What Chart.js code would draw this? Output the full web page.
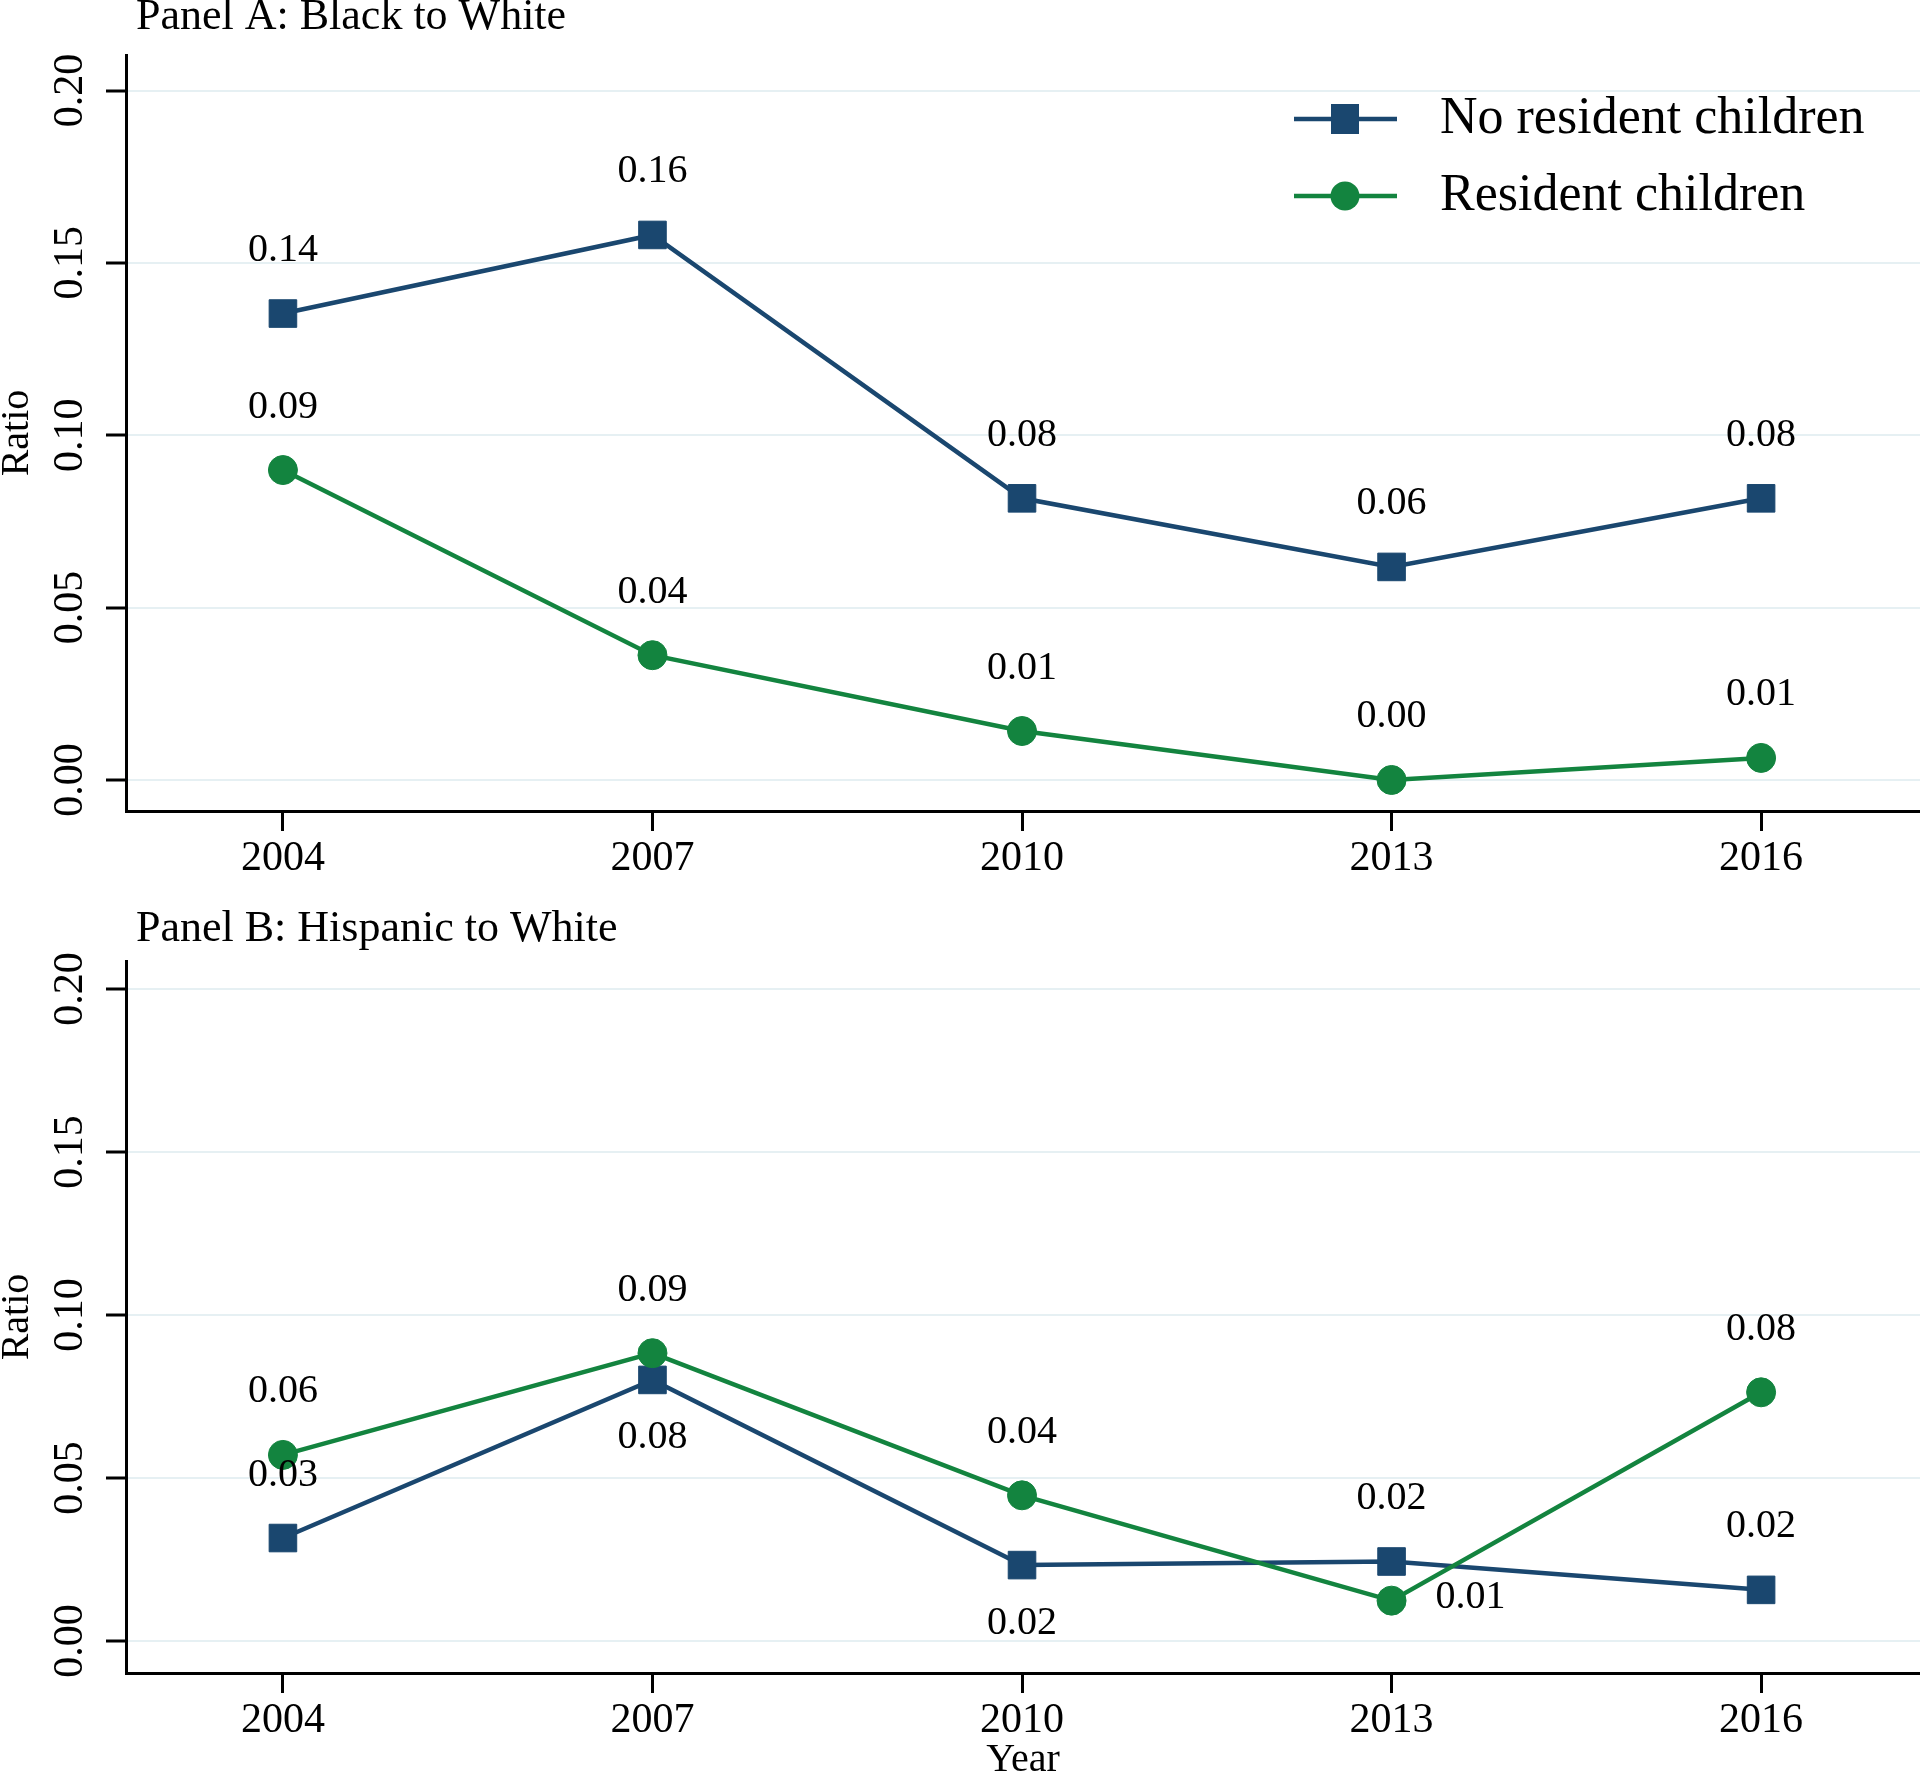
<!DOCTYPE html>
<html>
<head>
<meta charset="utf-8">
<title>Ratio by year</title>
<script src="https://cdn.jsdelivr.net/npm/chart.js@4.4.0/dist/chart.umd.min.js"></script>
<style>
  html, body { margin: 0; padding: 0; background: #fff; }
  #wrap { position: relative; width: 1920px; height: 1775px; }
  canvas { position: absolute; left: 0; }
</style>
</head>
<body>
<div id="wrap">
  <canvas id="panelA" width="1920" height="887" style="top:0"></canvas>
  <canvas id="panelB" width="1920" height="888" style="top:887px"></canvas>
</div>
<script>
// data
const years = [2004, 2007, 2010, 2013, 2016];
const yTicks = [0, 0.05, 0.10, 0.15, 0.20];
const seriesNames = ["No resident children", "Resident children"];

const blackNoKids = [0.1353, 0.1581, 0.0817, 0.0618, 0.0817];
const blackKids = [0.0899, 0.0362, 0.0142, 0.0000, 0.0064];
const hispNoKids = [0.0316, 0.0801, 0.0233, 0.0244, 0.0157];
const hispKids = [0.0571, 0.0883, 0.0447, 0.0124, 0.0763];

const NAVY = "#1a476f";
const GREEN = "#13843f";
const GRID = "#e6f0f3";
const SERIF = "'Liberation Serif', 'Times New Roman', serif";

// where each value label sits relative to its marker
const placeA = [
  ["above", "above", "above", "above", "above"],
  ["above", "above", "above", "above", "above"],
];
const placeB = [
  ["above", "below", "below", "above", "above"],
  ["above", "above", "above", "right", "above"],
];

const valueLabels = {
  id: "valueLabels",
  afterDatasetsDraw(chart, args, opts) {
    const ctx = chart.ctx;
    ctx.save();
    ctx.font = "40px " + SERIF;
    ctx.fillStyle = "#000";
    ctx.textBaseline = "middle";
    chart.data.datasets.forEach((ds, di) => {
      const meta = chart.getDatasetMeta(di);
      meta.data.forEach((pt, i) => {
        const where = opts.placement[di][i];
        const txt = ds.data[i].y.toFixed(2);
        let x = pt.x, y = pt.y;
        if (where === "above") {
          ctx.textAlign = "center";
          y -= 63;
        } else if (where === "below") {
          ctx.textAlign = "center";
          y += 58;
        } else {
          ctx.textAlign = "left";
          x += 44;
          y -= 3;
        }
        ctx.fillText(txt, x, y);
      });
    });
    ctx.restore();
  },
};

const panelTitle = {
  id: "panelTitle",
  afterDraw(chart, args, opts) {
    const ctx = chart.ctx;
    ctx.save();
    ctx.font = "44px " + SERIF;
    ctx.fillStyle = "#000";
    ctx.textAlign = "left";
    ctx.textBaseline = "middle";
    ctx.fillText(opts.text, chart.chartArea.left + 10, opts.y);
    ctx.restore();
  },
};

const lineLegend = {
  id: "lineLegend",
  afterDraw(chart, args, opts) {
    if (!opts.show) return;
    const ctx = chart.ctx;
    const rows = [119, 196];
    ctx.save();
    chart.data.datasets.forEach((ds, i) => {
      const y = rows[i];
      ctx.strokeStyle = ds.borderColor;
      ctx.lineWidth = 4.5;
      ctx.beginPath();
      ctx.moveTo(1294, y);
      ctx.lineTo(1397, y);
      ctx.stroke();
      ctx.fillStyle = ds.backgroundColor;
      ctx.beginPath();
      if (ds.pointStyle === "rect") {
        ctx.rect(1345 - 14, y - 15, 28, 30);
      } else {
        ctx.arc(1345, y, 14.5, 0, Math.PI * 2);
      }
      ctx.fill();
      ctx.fillStyle = "#000";
      ctx.font = "52px " + SERIF;
      ctx.textAlign = "left";
      ctx.textBaseline = "middle";
      ctx.fillText(ds.label, 1440, y);
    });
    ctx.restore();
  },
};

function makeDatasets(noKids, kids) {
  return [
    {
      label: seriesNames[0],
      data: years.map((yr, i) => ({ x: yr, y: noKids[i] })),
      borderColor: NAVY,
      backgroundColor: NAVY,
      borderWidth: 4.5,
      pointStyle: "rect",
      pointRadius: 19.5,
      pointBorderWidth: 1,
      pointBorderColor: NAVY,
      order: 1,
    },
    {
      label: seriesNames[1],
      data: years.map((yr, i) => ({ x: yr, y: kids[i] })),
      borderColor: GREEN,
      backgroundColor: GREEN,
      borderWidth: 4.5,
      pointStyle: "circle",
      pointRadius: 14.5,
      pointBorderWidth: 1,
      pointBorderColor: GREEN,
      order: 0,
    },
  ];
}

function makePanel(id, cfg) {
  const tickFont = { family: SERIF, size: 42 };
  new Chart(id, {
    type: "line",
    data: { datasets: makeDatasets(cfg.noKids, cfg.kids) },
    options: {
      responsive: false,
      animation: false,
      events: [],
      layout: { autoPadding: false, padding: { top: cfg.top, left: 0, right: 0, bottom: 0 } },
      plugins: {
        legend: { display: false },
        tooltip: { enabled: false },
        valueLabels: { placement: cfg.placement },
        panelTitle: { text: cfg.title, y: cfg.titleY },
        lineLegend: { show: cfg.legend },
      },
      scales: {
        x: {
          type: "linear",
          min: 2002.726,
          max: 2017.29,
          afterBuildTicks: (s) => { s.ticks = years.map((v) => ({ value: v })); },
          afterFit: (s) => { s.height = cfg.xHeight; },
          border: { display: true, color: "#000", width: 3 },
          grid: { drawOnChartArea: false, drawTicks: true, tickLength: 20, tickColor: "#000", tickWidth: 3 },
          ticks: {
            autoSkip: false,
            maxRotation: 0,
            padding: 3,
            color: "#000",
            font: tickFont,
            callback: (v) => String(v),
          },
          title: {
            display: cfg.xTitle,
            text: "Year",
            color: "#000",
            font: { family: SERIF, size: 40, lineHeight: 0.6 },
            padding: { top: 0, bottom: 3 },
          },
        },
        y: {
          type: "linear",
          min: cfg.yMin,
          max: cfg.yMax,
          afterBuildTicks: (s) => { s.ticks = yTicks.map((v) => ({ value: v })); },
          afterFit: (s) => { s.width = 126; },
          border: { display: true, color: "#000", width: 3 },
          grid: { color: GRID, lineWidth: 2, drawTicks: true, tickLength: 20, tickColor: "#000", tickWidth: 3 },
          ticks: {
            autoSkip: false,
            minRotation: 90,
            maxRotation: 90,
            crossAlign: "center",
            padding: -2,
            color: "#000",
            font: tickFont,
            callback: (v) => v.toFixed(2),
          },
          title: {
            display: true,
            text: "Ratio",
            color: "#000",
            font: { family: SERIF, size: 40, lineHeight: 0.8 },
            padding: { top: 1, bottom: 0 },
          },
        },
      },
    },
    plugins: [valueLabels, panelTitle, lineLegend],
  });
}

makePanel("panelA", {
  title: "Panel A: Black to White",
  titleY: 17,
  noKids: blackNoKids,
  kids: blackKids,
  yMin: -0.009,
  yMax: 0.2103,
  top: 55,
  xHeight: 76,
  xTitle: false,
  placement: placeA,
  legend: true,
});

makePanel("panelB", {
  title: "Panel B: Hispanic to White",
  titleY: 42,
  noKids: hispNoKids,
  kids: hispKids,
  yMin: -0.0098,
  yMax: 0.2086,
  top: 74,
  xHeight: 102,
  xTitle: true,
  placement: placeB,
  legend: false,
});
</script>
</body>
</html>
